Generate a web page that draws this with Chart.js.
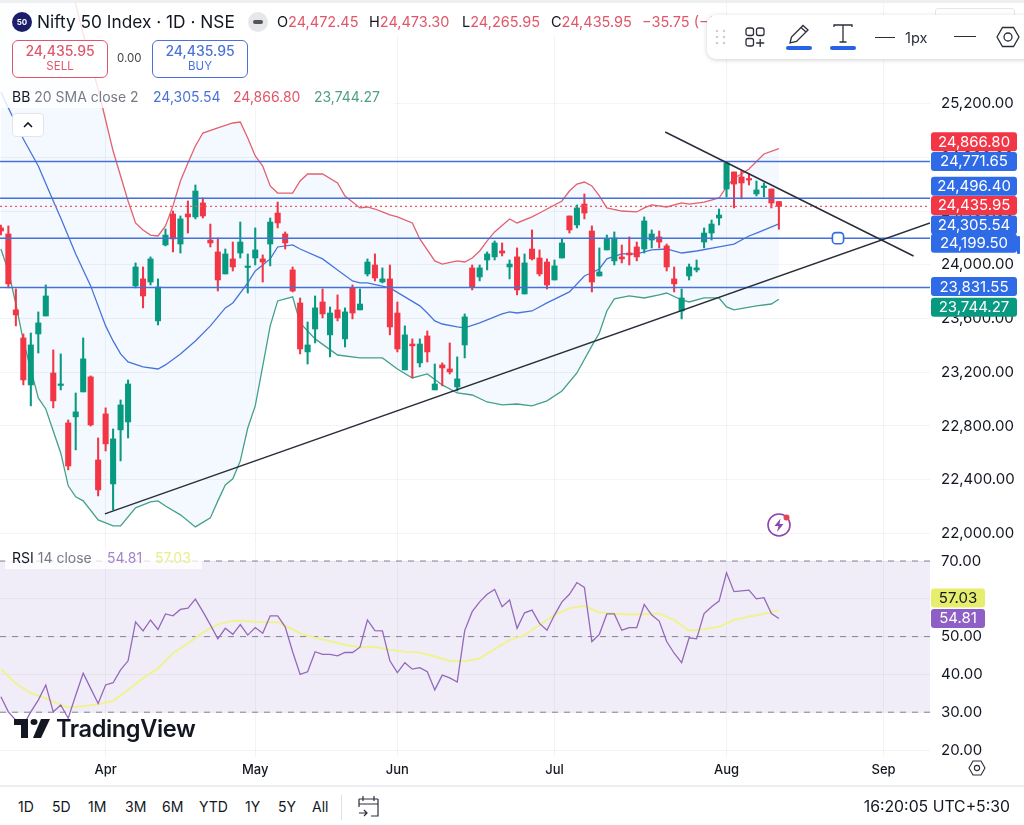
<!DOCTYPE html>
<html>
<head>
<meta charset="utf-8">
<title>Nifty 50 Index</title>
<script src="https://cdn.jsdelivr.net/npm/chart.js@4"></script>
<style>
  html, body { margin: 0; padding: 0; background: #fff; }
  body { width: 1024px; height: 825px; position: relative; overflow: hidden; font-family: Inter, "Noto Sans", sans-serif; color: #131722; }
  canvas { position: absolute; left: 0; display: block; }
  #priceChart { top: 1px; }
  #rsiChart { top: 540px; }
  .t { position: absolute; white-space: nowrap; line-height: 1; }
  .red { color: #e0566a; }
  .blue { color: #4a72d8; }
  .green { color: #4f9f88; }
  .gray { color: #787b86; }
  .box { position: absolute; box-sizing: border-box; background: #fff; }
  .sep { position: absolute; background: #eceef1; }
  svg { position: absolute; overflow: visible; }
</style>
</head>
<body>
<canvas id="priceChart" width="1024" height="540"></canvas>
<canvas id="rsiChart" width="1024" height="245"></canvas>

<!-- legends -->
<div class="box" style="left:0;top:0;width:700px;height:37px;background:rgba(255,255,255,.82)"></div>
<div class="box" style="left:0;top:37px;width:395px;height:71px;background:rgba(255,255,255,.82)"></div>
<div class="box" style="left:0;top:0;width:1024px;height:3px;background:#eeeff1"></div>
<div class="box" style="left:12px;top:12px;width:20px;height:20px;border-radius:50%;background:#1b1f6b"></div>
<div class="t" style="left:12px;top:18px;width:20px;text-align:center;font-size:8px;font-weight:700;color:#fff">50</div>
<div class="t" style="left:37px;top:13px;font-size:17.3px">Nifty 50 Index · 1D · NSE</div>
<div class="box" style="left:248px;top:12px;width:20px;height:20px;border-radius:50%;background:#e6e7ea"></div>
<div class="box" style="left:253px;top:20px;width:10px;height:4px;border-radius:2px;background:#555"></div>
<div class="t" style="left:277px;top:15px;font-size:14.5px">O<span class="red">24,472.45</span></div>
<div class="t" style="left:369px;top:15px;font-size:14.5px">H<span class="red">24,473.30</span></div>
<div class="t" style="left:462px;top:15px;font-size:14.5px">L<span class="red">24,265.95</span></div>
<div class="t" style="left:551px;top:15px;font-size:14.5px">C<span class="red">24,435.95</span></div>
<div class="t red" style="left:642px;top:15px;font-size:14.5px">−35.75 (−0.15%)</div>

<div class="box" style="left:12px;top:40px;width:96px;height:38px;border:1.2px solid #e0566a;border-radius:6px"></div>
<div class="t red" style="left:12px;top:44px;width:96px;text-align:center;font-size:14px;font-weight:500">24,435.95</div>
<div class="t red" style="left:12px;top:61px;width:96px;text-align:center;font-size:11.5px">SELL</div>
<div class="t" style="left:117px;top:53px;font-size:11.5px;color:#444">0.00</div>
<div class="box" style="left:152px;top:40px;width:96px;height:38px;border:1.2px solid #4a72d8;border-radius:6px"></div>
<div class="t blue" style="left:152px;top:44px;width:96px;text-align:center;font-size:14px;font-weight:500">24,435.95</div>
<div class="t blue" style="left:152px;top:61px;width:96px;text-align:center;font-size:11.5px">BUY</div>

<div class="t" style="left:12px;top:90px;font-size:14px">BB <span class="gray">20 SMA close 2</span></div>
<div class="t blue" style="left:153px;top:90px;font-size:14px">24,305.54</div>
<div class="t red" style="left:233px;top:90px;font-size:14px">24,866.80</div>
<div class="t green" style="left:314px;top:90px;font-size:14px">23,744.27</div>

<div class="box" style="left:12px;top:113px;width:32px;height:24px;border:1px solid #e3e5e9;border-radius:4px"></div>
<svg style="left:23px;top:121px" width="10" height="7"><path d="M1 6 L5 2 L9 6" fill="none" stroke="#131722" stroke-width="1.6"/></svg>

<!-- floating toolbar -->
<div class="box" style="left:935px;top:8px;width:80px;height:20px;border:1px solid #e6e7ea;border-radius:3px"></div>
<div class="box" style="left:707px;top:15px;width:330px;height:44px;border-radius:9px;box-shadow:0 1px 5px rgba(0,0,0,.18)"></div>
<svg style="left:715px;top:29px" width="12" height="16" fill="#c9ccd2"><circle cx="2" cy="2" r="1.2"/><circle cx="9" cy="2" r="1.2"/><circle cx="2" cy="8" r="1.2"/><circle cx="9" cy="8" r="1.2"/><circle cx="2" cy="14" r="1.2"/><circle cx="9" cy="14" r="1.2"/></svg>
<svg style="left:745px;top:27px" width="22" height="22" fill="none" stroke="#2a2e39" stroke-width="1.3"><rect x="1" y="1" width="7.5" height="7.5" rx="2"/><rect x="11.5" y="1" width="7.5" height="7.5" rx="2"/><rect x="1" y="11.5" width="7.5" height="7.5" rx="2"/><path d="M15.2 12 v8 M11.2 16 h8"/></svg>
<svg style="left:788px;top:23px" width="22" height="22" fill="none" stroke="#2a2e39" stroke-width="1.3"><path d="M2 20 L3.5 14 L15 2.5 L20 7 L8.5 18.5 Z M13 4.5 L18 9"/></svg>
<div class="box" style="left:786px;top:46px;width:26px;height:4px;border-radius:2px;background:#2962e8"></div>
<svg style="left:833px;top:24px" width="20" height="20" fill="none" stroke="#2a2e39" stroke-width="1.3"><path d="M1 3 V1 H19 V3 M10 1 V18 M6.5 18 H13.5"/></svg>
<div class="box" style="left:830px;top:46px;width:26px;height:4px;border-radius:2px;background:#2962e8"></div>
<div class="box" style="left:875px;top:37px;width:20px;height:1.3px;background:#2a2e39"></div>
<div class="t" style="left:905px;top:31px;font-size:14.5px;color:#2a2e39">1px</div>
<div class="box" style="left:954px;top:36px;width:22px;height:1.3px;background:#2a2e39"></div>
<svg style="left:996px;top:26px" width="24" height="22" fill="none" stroke="#2a2e39" stroke-width="1.3"><path d="M1 11 L6.5 1.5 H17.5 L23 11 L17.5 20.5 H6.5 Z"/><circle cx="12" cy="11" r="4"/></svg>

<div class="box" style="left:1017px;top:236px;width:3px;height:18px;background:#2f6be6;border-radius:1px"></div>

<!-- lightning badge -->
<svg style="left:766px;top:512px" width="26" height="26" fill="none"><circle cx="13" cy="13" r="11" stroke="#8e44ad" stroke-width="1.6"/><path d="M14.5 6.5 L8.5 14 H12.5 L11 20 L17.5 12 H13.5 Z" fill="#8e44ad"/><circle cx="20.5" cy="5.5" r="3" fill="#e8414f"/></svg>

<!-- RSI legend -->
<div class="box" style="left:5px;top:548px;width:197px;height:21px;background:rgba(255,255,255,.75)"></div>
<div class="t" style="left:12px;top:551px;font-size:14px">RSI <span class="gray">14 close</span></div>
<div class="t" style="left:107px;top:551px;font-size:14px;color:#a583cc">54.81</div>
<div class="t" style="left:155px;top:551px;font-size:14px;color:#e9ee85">57.03</div>

<!-- watermark -->
<svg style="left:14px;top:719px" width="36" height="19" viewBox="0 0 36 22" preserveAspectRatio="none" fill="#131722"><path d="M14 0H0v7h7v15h7V0z"/><path d="M27 22h-8L27 0h9l-9 22z"/><circle cx="20" cy="3.5" r="3.5"/></svg>
<div class="t" style="left:56px;top:717px;font-size:23.6px;font-weight:600;letter-spacing:-.4px">TradingView</div>

<!-- time axis gear and footer -->
<svg style="left:968px;top:760px" width="18" height="16" fill="none" stroke="#2a2e39" stroke-width="1.1"><path d="M1 8 L5 1 H13 L17 8 L13 15 H5 Z"/><circle cx="9" cy="8" r="2.6"/></svg>
<div class="sep" style="left:0;top:785px;width:1024px;height:2px"></div>
<div class="t" style="left:18px;top:800px;font-size:14px">1D</div>
<div class="t" style="left:52px;top:800px;font-size:14px">5D</div>
<div class="t" style="left:88px;top:800px;font-size:14px">1M</div>
<div class="t" style="left:125px;top:800px;font-size:14px">3M</div>
<div class="t" style="left:162px;top:800px;font-size:14px">6M</div>
<div class="t" style="left:199px;top:800px;font-size:14px">YTD</div>
<div class="t" style="left:245px;top:800px;font-size:14px">1Y</div>
<div class="t" style="left:278px;top:800px;font-size:14px">5Y</div>
<div class="t" style="left:312px;top:800px;font-size:14px">All</div>
<div class="sep" style="left:341px;top:795px;width:1px;height:25px;background:#dfe1e5"></div>
<svg style="left:358px;top:795px" width="22" height="24" fill="none" stroke="#2a2e39" stroke-width="1.2"><path d="M1 4 H20 M1 9 H20 M5 1 V6 M16 1 V6 M20 4 V21 H13 M1 4 V12 M1 18 H9 M6 15 L9 18 L6 21"/></svg>
<div class="t" style="right:14px;top:799px;font-size:15.8px">16:20:05 UTC+5:30</div>

<script>
// Candles, in date order
const opens = [24276,24231,23665,23456,23106,23486,23620,23195,23102,22823,22868,23054,23166,22547,22890,22368,22771,22830,23844,23896,23873,23583,24149,24380,24156,24380,24358,24462,24186,24097,23933,24045,24089,23981,24052,24045,24156,24387,24231,23963,23717,23352,23523,23724,23479,23665,23449,23829,23665,23933,24000,23873,23896,23642,23218,23411,23270,23471,23069,23255,23225,23091,23404,23978,23911,24037,24060,24104,23985,24060,23784,24119,24052,24022,23888,24052,24365,24298,24454,24253,23918,24112,24030,24060,24089,24134,24119,24186,24209,24142,23896,23657,23918,23963,24171,24238,24350,24566,24693,24656,24641,24529,24577,24566,24472.45];
const highs = [24298,24291,23821,23486,23493,23650,23851,23367,23337,22845,23046,23456,23173,22711,22935,22778,22994,23143,24015,23985,24060,23896,24268,24402,24365,24477,24596,24499,24305,24201,24119,24171,24320,24082,24276,24075,24350,24469,24246,23985,23754,23575,23769,23821,23687,23777,23680,23851,23821,24045,24082,23978,24000,23724,23546,23449,23449,23508,23262,23270,23419,23315,23635,24000,24000,24097,24179,24164,24037,24127,24082,24261,24112,24045,24037,24194,24365,24447,24529,24291,24127,24223,24246,24149,24209,24171,24358,24261,24253,24156,23985,23821,24007,24037,24276,24335,24417,24767,24693,24700,24678,24626,24611,24566,24473.30];
const lows = [24223,23829,23546,23106,22950,23344,23620,22935,23069,22473,22622,23054,22800,22279,22614,22175,22540,22711,23829,23680,23851,23553,24142,24097,24089,24238,24343,24350,24134,23806,23933,23955,24052,23791,24000,23873,23993,24276,24119,23799,23337,23262,23419,23605,23315,23583,23389,23598,23665,23918,23881,23866,23479,23352,23218,23158,23240,23277,23069,23099,23188,23061,23307,23814,23881,23963,24037,24067,23896,23777,23784,24037,23918,23821,23888,24052,24238,24276,24343,23799,23918,24112,24000,24015,24000,24030,24089,24127,24127,23955,23799,23598,23888,23948,24127,24186,24298,24507,24425,24492,24596,24514,24507,24425,24265.95];
const closes = [24253,23859,23628,23143,23404,23568,23769,22987,23110,22502,22905,23300,22808,22324,22667,22704,22957,23113,23985,23769,24045,23836,24223,24194,24343,24358,24551,24365,24164,23888,24082,23985,24171,23989,24112,24022,24320,24313,24164,23806,23374,23404,23680,23635,23642,23605,23650,23642,23709,24022,23903,23896,23538,23374,23479,23397,23411,23352,23113,23233,23203,23151,23613,23836,23978,24082,24164,24089,24007,23814,24015,24045,23933,23851,23993,24164,24261,24425,24387,23873,23948,24194,24201,24045,24075,24060,24328,24231,24171,23985,23859,23754,23985,23978,24238,24305,24372,24760,24603,24611,24633,24559,24585,24462,24435.95];

// Bollinger bands, read at the bars where the line bends
const upperBars = [0,8,9,10,11,13,15,17,18,19,20,21,22,23,24,25,26,27,29,31,32,33,34,35,36,37,39,40,41,43,45,46,48,49,50,51,52,53,55,56,58,59,61,62,63,64,65,66,68,69,71,72,73,75,76,77,78,79,80,81,83,85,86,87,89,91,92,94,96,97,98,99,100,102,104];
const upperValues = [26900,26250,26116,25944,25721,25311,24849,24477,24313,24261,24223,24216,24291,24440,24626,24760,24887,24983,25021,25058,25065,24946,24812,24737,24589,24536,24536,24626,24678,24678,24611,24514,24425,24432,24417,24395,24373,24358,24313,24194,24030,24007,24030,24022,24052,24104,24179,24246,24343,24313,24358,24387,24417,24477,24551,24603,24618,24589,24514,24425,24402,24395,24425,24447,24432,24462,24454,24469,24499,24581,24648,24678,24715,24827,24866.80];
const basisBars = [0,1,3,5,7,8,9,10,12,14,15,16,17,19,21,22,24,26,28,30,31,33,34,35,36,37,39,40,43,45,47,48,49,52,54,56,57,58,59,61,62,64,67,68,69,71,73,76,78,80,81,83,85,87,89,91,93,96,98,100,101,104];
const basisValues = [25289,25170,24939,24737,24477,24350,24216,24082,23844,23546,23434,23337,23277,23240,23225,23255,23337,23434,23546,23680,23717,23866,23955,24000,24045,24134,24149,24119,24045,23963,23881,23866,23866,23829,23762,23695,23642,23583,23560,23538,23531,23568,23635,23650,23642,23657,23717,23799,23918,23970,24045,24082,24082,24112,24119,24089,24104,24134,24156,24216,24238,24305.54];
const lowerBars = [0,1,2,3,5,6,8,9,10,11,13,15,16,18,20,21,22,24,26,28,29,30,31,32,33,34,35,36,37,39,40,42,45,48,51,53,55,57,59,61,63,65,67,69,71,73,75,77,79,80,81,82,84,86,88,89,91,92,94,96,97,98,101,103,104];
const lowerValues = [24119,23955,23709,23434,23009,22927,22599,22354,22272,22242,22100,22056,22056,22190,22234,22242,22204,22138,22048,22115,22242,22361,22406,22540,22785,22950,23247,23546,23732,23762,23568,23449,23329,23307,23307,23225,23158,23188,23106,23046,23031,22979,22957,22964,22950,22987,23061,23195,23397,23493,23657,23747,23769,23754,23777,23791,23739,23724,23754,23754,23687,23665,23695,23709,23744.27];

// RSI, one value per bar
const rsiValues = [34.1,30.1,27.9,26.6,30.1,33.2,37.2,30.1,31.9,28.4,34.5,40.3,36.3,32.3,37.2,37.8,41.2,43.6,53.9,51.5,54.4,51.9,56.0,55.5,57.2,57.5,59.9,56.6,53.1,49.4,52.2,50.6,53.2,50.4,52.4,50.9,55.5,55.5,52.6,46.0,40.0,40.7,46.0,45.3,45.3,44.9,45.8,45.8,47.2,54.4,51.6,51.5,43.6,40.5,43.1,41.4,41.8,40.7,35.9,39.8,39.1,38.0,51.6,56.6,59.2,61.2,62.5,57.9,59.7,52.2,56.3,57.0,53.5,51.7,55.7,59.2,61.2,64.3,63.0,48.7,50.6,56.0,56.0,51.7,52.4,52.4,58.5,55.7,54.1,48.7,45.6,43.1,49.7,49.4,56.1,57.9,59.4,66.9,61.9,62.1,62.3,60.0,60.3,56.1,54.81];
const rsiMaBars = [0,2,4,6,8,9,11,13,15,17,19,21,23,25,27,29,31,33,35,37,38,40,42,44,46,48,50,52,54,56,58,60,62,64,66,68,70,72,74,76,78,80,82,84,86,88,90,92,94,96,98,100,102,104];
const rsiMaValues = [41.4,37.6,35.0,33.7,31.9,31.3,31.6,32.1,33.0,35.9,39.0,41.6,45.6,48.2,51.1,53.2,54.2,54.1,53.8,53.8,52.9,50.9,49.7,48.8,47.8,47.2,47.3,46.5,46.0,45.8,44.7,43.6,43.5,44.2,46.7,49.1,50.4,53.1,55.7,57.5,58.1,56.4,56.1,55.9,55.9,56.1,54.4,51.6,52.0,52.6,54.4,55.3,56.0,57.03];

// Drawn levels and trend lines
const levelValues = [24771.65, 24496.40, 24199.50, 23831.55];
const lastClose = 24435.95;
const riseTrendBars = [13.9, 124.2];
const riseTrendValues = [22145, 24313];
const fallTrendBars = [88.8, 122];
const fallTrendValues = [24991, 24067];
const handleBar = 111.9;

// Axis ticks
const monthNames = ['Apr', 'May', 'Jun', 'Jul', 'Aug', 'Sep'];
const monthBars = [14, 34, 53, 74, 97, 118];
const priceTicks = [25200, 24800, 24400, 24000, 23600, 23200, 22800, 22400, 22000];
const rsiTicks = [70, 60, 50, 40, 30, 20];
const rsiBandLevels = [70, 50, 30];

// Price scale chips
const priceChipValues = [24866.80, 24771.65, 24496.40, 24435.95, 24305.54, 24199.50, 23831.55, 23744.27];
const priceChipColors = ['#f23645', '#2f6be6', '#2f6be6', '#f23645', '#2f6be6', '#2f6be6', '#2f6be6', '#089981'];
const priceChipShifts = [-7, 0, -12, -1, 1, 5, -1, 8];
const rsiChipValues = [57.03, 54.81];
const rsiChipColors = ['#e7ee6e', '#8e5fc4'];
const rsiChipTexts = ['#131722', '#ffffff'];
const rsiChipShifts = [-12, 0];

const X_MIN = -0.12;
const X_MAX = 124.2;
const AXIS_WIDTH = 94;
const GRID = 'rgba(42,46,57,0.055)';
const UP = '#089981';
const DOWN = '#f23645';
// tiny lineHeight so the first and last labels do not inset the plot
const AXIS_FONT = { family: 'Inter', size: 15, lineHeight: 0.1 };

const money = (v) => v.toLocaleString('en-US', { minimumFractionDigits: 2, maximumFractionDigits: 2 });
const series = (bars, values) => bars.map((x, i) => ({ x: x, y: values[i] }));
const flat = (v) => [{ x: X_MIN, y: v }, { x: X_MAX, y: v }];
const barColors = closes.map((c, i) => (c >= opens[i] ? UP : DOWN));

const lineSet = (data, color, extra) => Object.assign({
    type: 'line',
    data: data,
    borderColor: color,
    borderWidth: 1.3,
    pointRadius: 0,
    tension: 0,
    fill: false
}, extra);

// The y scale keeps a fixed width
const fitY = (scale) => {
    scale.width = AXIS_WIDTH;
    scale.paddingTop = 0;
    scale.paddingBottom = 0;
};

const timeScale = (extra) => Object.assign({
    type: 'linear',
    offset: false,
    min: X_MIN,
    max: X_MAX,
    grid: { color: GRID, drawTicks: false, offset: false },
    border: { display: false },
    afterBuildTicks: (scale) => { scale.ticks = monthBars.map((v) => ({ value: v })); }
}, extra);

const chipsPlugin = (id, axis, values, colors, texts, shifts, width) => ({
    id: id,
    afterDraw(chart) {
        const ctx = chart.ctx;
        const scale = chart.scales[axis];
        const left = chart.chartArea.right + 1;
        ctx.save();
        ctx.font = '15px Inter';
        ctx.textBaseline = 'middle';
        ctx.textAlign = 'center';
        values.forEach((v, i) => {
            const y = scale.getPixelForValue(v) + shifts[i];
            ctx.fillStyle = colors[i];
            ctx.beginPath();
            ctx.roundRect(left, y - 9.5, width, 19, 3);
            ctx.fill();
            ctx.fillStyle = texts[i];
            ctx.fillText(money(v), left + width / 2, y + 0.5);
        });
        ctx.restore();
    }
});

const setupPriceChart = () => {
    const datasets = [
        lineSet(series(lowerBars, lowerValues), '#45a088', { order: 5 }),
        lineSet(series(upperBars, upperValues), '#e4606e', {
            order: 5,
            fill: { target: 0 },
            backgroundColor: 'rgba(33,150,243,0.055)'
        }),
        lineSet(series(basisBars, basisValues), '#4a72dc', { order: 5 }),
        {
            type: 'bar',
            data: opens.map((o, i) => ({ x: i, y: [lows[i], highs[i]] })),
            backgroundColor: barColors,
            barThickness: 1.4,
            grouped: false,
            order: 4
        },
        {
            type: 'bar',
            data: opens.map((o, i) => ({ x: i, y: [o, closes[i]] })),
            backgroundColor: barColors,
            barThickness: 5.4,
            minBarLength: 1.5,
            grouped: false,
            order: 3
        },
        lineSet(flat(lastClose), '#ee5a68', { order: 2, borderWidth: 1.2, borderDash: [2, 3] })
    ];
    levelValues.forEach((v) => {
        datasets.push(lineSet(flat(v), '#4470d8', { order: 2, borderWidth: 1.5 }));
    });
    datasets.push(lineSet(series(riseTrendBars, riseTrendValues), '#2a2e39', { order: 1, borderWidth: 1.5 }));
    datasets.push(lineSet(series(fallTrendBars, fallTrendValues), '#2a2e39', { order: 1, borderWidth: 1.5 }));
    datasets.push(lineSet([{ x: handleBar, y: levelValues[2] }], '#2f6be6', {
        order: 0,
        pointRadius: 6.5,
        pointStyle: 'rectRounded',
        pointBackgroundColor: '#fff',
        pointBorderColor: '#2f6be6',
        pointBorderWidth: 1.6
    }));

    new Chart(document.getElementById('priceChart'), {
        data: { datasets: datasets },
        options: {
            responsive: false,
            animation: false,
            events: [],
            layout: { padding: 0, autoPadding: false },
            plugins: { legend: { display: false }, tooltip: { enabled: false } },
            scales: {
                x: timeScale({
                    ticks: { display: false },
                    afterFit: (scale) => { scale.height = 0; }
                }),
                y: {
                    position: 'right',
                    min: 21943,
                    max: 25967,
                    grid: { color: GRID, drawTicks: false },
                    border: { display: false },
                    afterBuildTicks: (scale) => { scale.ticks = priceTicks.map((v) => ({ value: v })); },
                    afterFit: fitY,
                    ticks: { color: '#131722', font: AXIS_FONT, padding: 11, callback: (v) => money(v) }
                }
            }
        },
        plugins: [chipsPlugin('priceChips', 'y', priceChipValues, priceChipColors,
            priceChipColors.map(() => '#ffffff'), priceChipShifts, 86)]
    });
};

const setupRsiChart = () => {
    const datasets = [
        lineSet(series(rsiMaBars, rsiMaValues), '#f0f29a', { order: 2, borderWidth: 2.2 }),
        lineSet(rsiValues.map((v, i) => ({ x: i, y: v })), '#9468bb', { order: 1, borderWidth: 1.3 })
    ];
    rsiBandLevels.forEach((v, i) => {
        const band = i === 0 ? { fill: { value: rsiBandLevels[2] }, backgroundColor: 'rgba(126,87,194,0.11)' } : {};
        datasets.push(lineSet(flat(v), '#85828f', Object.assign({ order: 3, borderWidth: 1, borderDash: [6, 6] }, band)));
    });

    new Chart(document.getElementById('rsiChart'), {
        data: { datasets: datasets },
        options: {
            responsive: false,
            animation: false,
            events: [],
            layout: { padding: 0, autoPadding: false },
            plugins: { legend: { display: false }, tooltip: { enabled: false } },
            scales: {
                x: timeScale({
                    afterFit: (scale) => {
                        scale.height = 28;
                        scale.paddingLeft = 0;
                        scale.paddingRight = 0;
                    },
                    ticks: {
                        autoSkip: false,
                        maxRotation: 0,
                        padding: 5,
                        color: '#131722',
                        font: { family: 'Inter', size: 13, weight: '500' },
                        callback: (v) => monthNames[monthBars.indexOf(v)]
                    }
                }),
                y: {
                    position: 'right',
                    min: 18.15,
                    max: 75.56,
                    grid: { color: GRID, drawTicks: false },
                    border: { display: false },
                    afterBuildTicks: (scale) => { scale.ticks = rsiTicks.map((v) => ({ value: v })); },
                    afterFit: fitY,
                    ticks: { color: '#131722', font: AXIS_FONT, padding: 11, callback: (v) => money(v) }
                }
            }
        },
        plugins: [chipsPlugin('rsiChips', 'y', rsiChipValues, rsiChipColors, rsiChipTexts, rsiChipShifts, 54)]
    });
};

setupPriceChart();
setupRsiChart();
</script>
</body>
</html>
